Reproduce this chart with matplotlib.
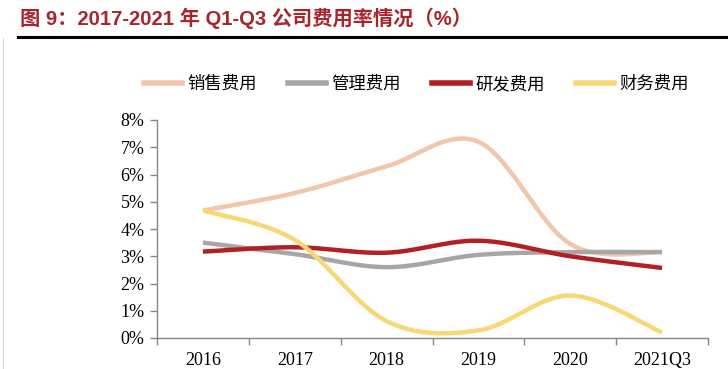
import numpy as np
import matplotlib
matplotlib.use("Agg")
import matplotlib.pyplot as plt
from matplotlib.lines import Line2D

categories = ["2016", "2017", "2018", "2019", "2020", "2021Q3"]
sales = [4.68, 5.32, 6.3, 7.2, 3.45, 3.15]
admin = [3.5, 3.08, 2.6, 3.05, 3.15, 3.15]
rnd = [3.17, 3.33, 3.13, 3.57, 3.0, 2.57]
finance = [4.68, 3.6, 0.62, 0.28, 1.56, 0.2]
series_names = ["销售费用", "管理费用", "研发费用", "财务费用"]
colors = ["#F2C6AB", "#A6A6A6", "#B22024", "#FAD776"]
yticks = [0, 1, 2, 3, 4, 5, 6, 7, 8]


def smooth(xs, ys, n=50):
    """Catmull-Rom style Bezier smoothing (like Excel's smoothed line)."""
    xs = np.asarray(xs, float)
    ys = np.asarray(ys, float)
    px, py = [], []
    m = len(xs)
    for i in range(m - 1):
        p0 = (xs[max(i - 1, 0)], ys[max(i - 1, 0)])
        p1 = (xs[i], ys[i])
        p2 = (xs[i + 1], ys[i + 1])
        p3 = (xs[min(i + 2, m - 1)], ys[min(i + 2, m - 1)])
        c1 = (p1[0] + (p2[0] - p0[0]) / 6, p1[1] + (p2[1] - p0[1]) / 6)
        c2 = (p2[0] - (p3[0] - p1[0]) / 6, p2[1] - (p3[1] - p1[1]) / 6)
        t = np.linspace(0, 1, n)
        bx = (1 - t) ** 3 * p1[0] + 3 * (1 - t) ** 2 * t * c1[0] + 3 * (1 - t) * t ** 2 * c2[0] + t ** 3 * p2[0]
        by = (1 - t) ** 3 * p1[1] + 3 * (1 - t) ** 2 * t * c1[1] + 3 * (1 - t) * t ** 2 * c2[1] + t ** 3 * p2[1]
        px.extend(bx)
        py.extend(by)
    return np.array(px), np.array(py)


fig = plt.figure(figsize=(7.28, 3.69), dpi=100)

# Title
fig.text(20 / 728, 1 - 18 / 369, "图 9：2017-2021 年 Q1-Q3 公司费用率情况（%）",
         family=["Liberation Sans", "Noto Sans CJK SC"], fontweight="bold",
         fontsize=14.6, color="#A8262B", va="center", ha="left")
fig.add_artist(Line2D([18 / 728, 1.0], [1 - 36.5 / 369, 1 - 36.5 / 369],
                      color="black", linewidth=2.2, transform=fig.transFigure))
fig.add_artist(Line2D([2.5 / 728, 2.5 / 728], [0, 1 - 38 / 369],
                      color="#D9D9D9", linewidth=0.8, transform=fig.transFigure))

ax = fig.add_axes([157 / 728, 1 - 338 / 369, 551 / 728, 218 / 369])
x = np.arange(len(categories))
for vals, c, name in zip([sales, admin, rnd, finance], colors, series_names):
    sx, sy = smooth(x, vals)
    ax.plot(sx, sy, color=c, linewidth=3.2, solid_capstyle="butt", label=name)

ax.set_xlim(-0.5, len(categories) - 0.5)
ax.set_ylim(0, 8)
ax.set_yticks(yticks)
ax.set_yticklabels([f"{v}%" for v in yticks], family="Liberation Serif", fontsize=13)
ax.set_xticks(x)
ax.set_xticklabels(categories, family="Liberation Serif", fontsize=13)
ax.set_xticks(np.arange(len(categories) + 1) - 0.5, minor=True)
ax.tick_params(axis="x", which="major", length=0, pad=10)
ax.tick_params(axis="x", which="minor", length=5, color="#868686", width=1)
ax.tick_params(axis="y", length=5, color="#868686", width=1, pad=4)
for s in ["top", "right"]:
    ax.spines[s].set_visible(False)
for s in ["left", "bottom"]:
    ax.spines[s].set_color("#868686")
    ax.spines[s].set_linewidth(1)

handles = [Line2D([0], [0], color=c, linewidth=4) for c in colors]
fig.legend(handles, series_names, loc="center", bbox_to_anchor=(416.5 / 728, 1 - 84 / 369),
           ncol=4, frameon=False, prop={"family": "Noto Sans CJK SC", "size": 12.5},
           handlelength=2.2, handletextpad=0.3, columnspacing=1.8)

fig.savefig("out.png", dpi=100)
